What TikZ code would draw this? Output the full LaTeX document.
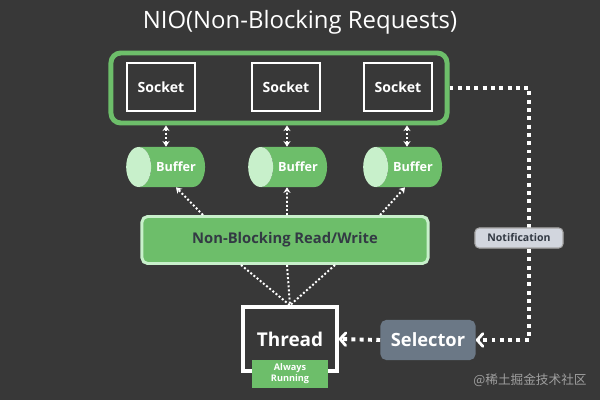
\documentclass[tikz,border=0pt]{standalone}
\usepackage{fontspec}
\setmainfont{Open Sans}
\newfontfamily\cjk{Noto Sans CJK SC}
\usetikzlibrary{shapes.geometric,arrows.meta}
\definecolor{bg}{HTML}{383838}
\definecolor{leaf}{HTML}{6DBE6A}
\definecolor{mint}{HTML}{C8F0CB}
\definecolor{slate}{HTML}{6B7886}
\definecolor{cloud}{HTML}{D2D6DE}
\definecolor{ink}{HTML}{333A44}
\tikzset{
	socket/.style={draw=white,line width=1.6pt,minimum width=1.7cm,minimum height=1.2cm,text=white,font=\bfseries\fontsize{10}{12}\selectfont},
	buffer/.style={cylinder,shape border rotate=180,aspect=1.3,minimum height=1.65cm,minimum width=1.0cm,cylinder uses custom fill,cylinder body fill=leaf,cylinder end fill=mint,text=white,font=\bfseries\fontsize{9}{11}\selectfont},
	smalldots/.style={draw=white,line width=1.4pt,dash pattern=on 1.4pt off 1.5pt},
	bigdots/.style={draw=white,line width=2.8pt,dash pattern=on 2.8pt off 3.1pt},
	twotip/.style={{Stealth[length=4pt,width=5pt]}-{Stealth[length=4pt,width=5pt]}},
	tip/.style={-{Stealth[length=4pt,width=5pt]}},
	barb/.style={-{Straight Barb[length=4pt,width=9pt,line width=2pt,round]}}
}
\begin{document}
\begin{tikzpicture}[x=0.025cm,y=-0.025cm]
	\fill[bg] (0,0) rectangle (600,400);
	\node[text=white,font=\fontsize{17}{20}\selectfont] (title) at (300,22) {NIO(Non-Blocking Requests)};
	\node[draw=leaf,line width=3.5pt,rounded corners=7pt,minimum width=8.4cm,minimum height=1.75cm] (frame) at (279,88) {};
	\node[socket] (s1) at (161,87) {Socket};
	\node[socket] (s2) at (286,87) {Socket};
	\node[socket] (s3) at (398,87) {Socket};
	\node[buffer] (b1) at (176,167) {Buffer};
	\node[buffer] (b2) at (298,167) {Buffer};
	\node[buffer] (b3) at (413,167) {Buffer};
	\node[fill=leaf,draw=mint,line width=2.1pt,rounded corners=4pt,minimum width=7.15cm,minimum height=1.175cm,text=ink,font=\bfseries\fontsize{10.5}{12}\selectfont] (nb) at (285,240) {Non-Blocking Read/Write};
	\node[draw=white,fill=bg,line width=2.4pt,minimum width=2.35cm,minimum height=1.6cm,text=white,font=\bfseries\fontsize{13.5}{16}\selectfont] (th) at (290,339) {Thread};
	\node[fill=leaf,minimum width=1.875cm,minimum height=0.7cm,text=white,align=center,inner sep=1pt,font=\bfseries\fontsize{6.5}{8}\selectfont] (run) at (290,374) {Always\\Running};
	\node[fill=slate,rounded corners=4pt,minimum width=2.375cm,minimum height=1cm,text=white,font=\bfseries\fontsize{13}{16}\selectfont] (sel) at (428,340) {Selector};
	\coordinate (corner) at (529,88);
	\draw[smalldots,twotip] ([xshift=0.125cm]s1.south |- frame.south) -- ([xshift=0.125cm]s1.south |- b1.north);
	\draw[smalldots,twotip] ([xshift=0.025cm]s2.south |- frame.south) -- ([xshift=0.025cm]s2.south |- b2.north);
	\draw[smalldots,twotip] ([xshift=0.225cm]s3.south |- frame.south) -- ([xshift=0.225cm]s3.south |- b3.north);
	\draw[smalldots,tip] ([xshift=-2.05cm]nb.north) -- (b1.center |- b1.south);
	\draw[smalldots,tip] ([xshift=0.05cm]nb.north) -- ([xshift=-0.275cm]b2.center |- b2.south);
	\draw[smalldots,tip] ([xshift=2.375cm]nb.north) -- ([xshift=-0.2cm]b3.center |- b3.south);
	\draw[smalldots] ([xshift=-1.1cm]nb.south) -- (th.north);
	\draw[smalldots] ([xshift=0.05cm]nb.south) -- (th.north);
	\draw[smalldots] ([xshift=1.25cm]nb.south) -- (th.north);
	\draw[bigdots,barb] (sel.west) -- (th.east);
	\draw[bigdots,barb] (frame.east) -- (corner) |- (sel.east);
	\node[fill=cloud,draw=gray!70,line width=0.8pt,rounded corners=3pt,minimum width=2.2cm,minimum height=0.5cm,text=ink,font=\bfseries\fontsize{7.5}{9}\selectfont] (note) at (519,238) {Notification};
	\node[text=gray!75,font=\cjk\fontsize{9}{11}\selectfont] (mark) at (530,380) {@稀土掘金技术社区};
\end{tikzpicture}
\end{document}
